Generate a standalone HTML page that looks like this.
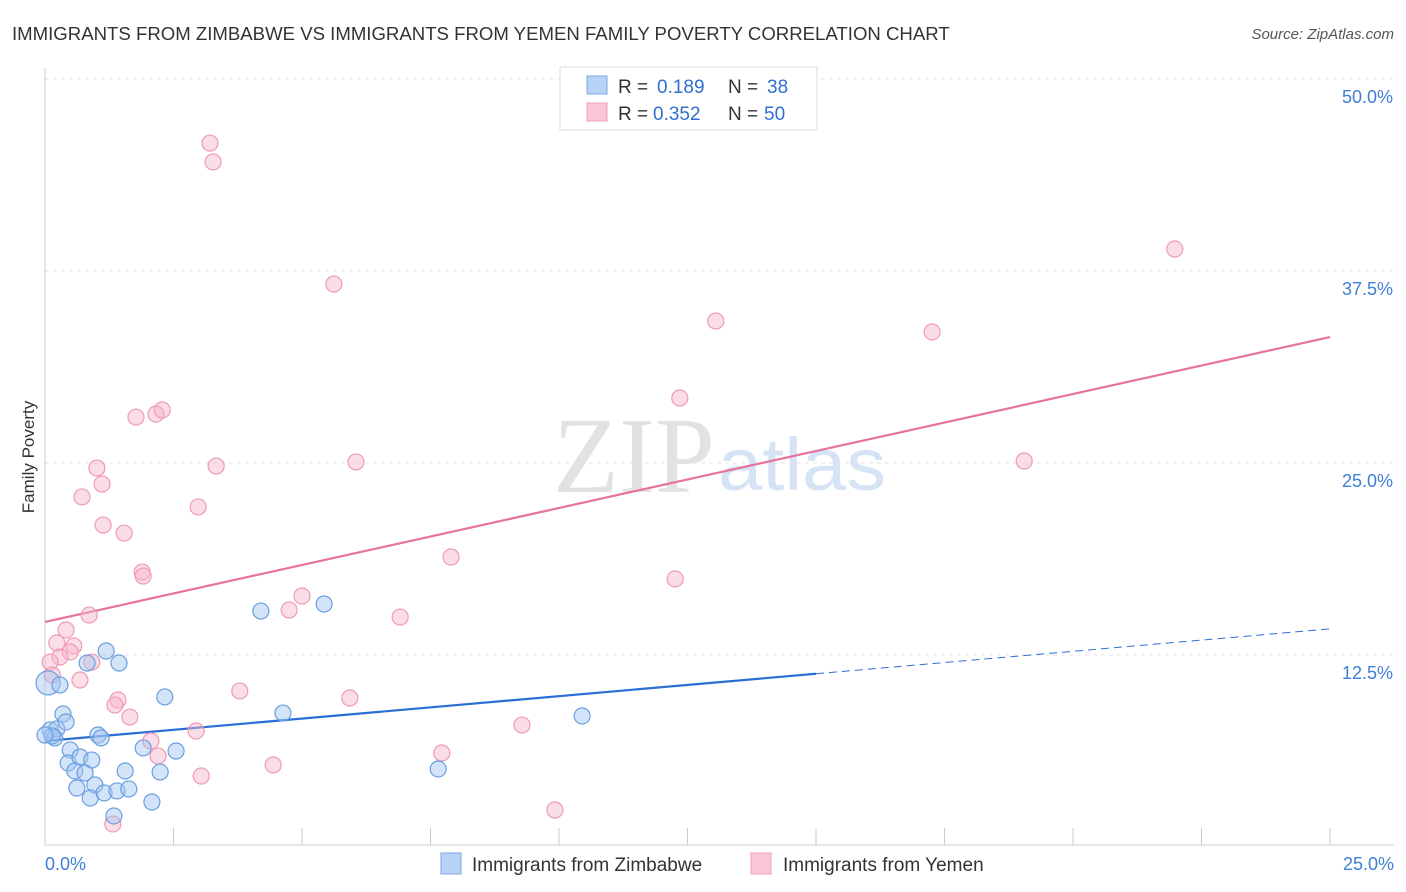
<!DOCTYPE html>
<html><head><meta charset="utf-8"><style>
body{margin:0;background:#fff;font-family:"Liberation Sans",sans-serif;}
svg{display:block}
</style></head><body>
<svg id="chart" width="1406" height="892">
<text x="12" y="40" font-size="18.6" fill="#333">IMMIGRANTS FROM ZIMBABWE VS IMMIGRANTS FROM YEMEN FAMILY POVERTY CORRELATION CHART</text>
<text x="1394" y="39" font-size="15" fill="#555" font-style="italic" text-anchor="end">Source: ZipAtlas.com</text>
<text transform="translate(34,457) rotate(-90)" font-size="17" fill="#333" text-anchor="middle">Family Poverty</text>
<g>
<text x="553" y="492" font-size="108" fill="#e2e2e2" font-family="Liberation Serif,serif" textLength="162" lengthAdjust="spacingAndGlyphs">ZIP</text>
<text x="718" y="490" font-size="74" fill="#d5e3f5" textLength="168" lengthAdjust="spacingAndGlyphs">atlas</text>
</g>
<g id="grid"></g><g id="axes"></g><g id="lines"></g><g id="pts"></g>
<g>
<rect x="560" y="67" width="257" height="63" fill="#fff" stroke="#ddd"/>
<rect x="587" y="76" width="20" height="18" fill="#b8d3f5" stroke="#7aa8e6"/>
<rect x="587" y="103" width="20" height="18" fill="#f9c6d5" stroke="#efa0b9"/>
<text y="93" font-size="19" fill="#333"><tspan x="618">R = </tspan><tspan x="657" fill="#2f6fd0">0.189</tspan><tspan x="728">N = </tspan><tspan x="767" fill="#2f6fd0">38</tspan></text>
<text y="120" font-size="19" fill="#333"><tspan x="618">R = </tspan><tspan x="653" fill="#2f6fd0">0.352</tspan><tspan x="728">N = </tspan><tspan x="764" fill="#2f6fd0">50</tspan></text>
</g>
<g>
<rect x="441" y="853" width="20" height="21" fill="#b8d3f5" stroke="#7aa8e6"/>
<text x="472" y="871" font-size="19" fill="#333">Immigrants from Zimbabwe</text>
<rect x="751" y="853" width="20" height="21" fill="#f9c6d5" stroke="#efa0b9"/>
<text x="783" y="871" font-size="19" fill="#333">Immigrants from Yemen</text>
</g>
</svg>
<script>
const blueX=[0.06,0.29,0.10,0.23,0.19,0.35,0.41,0.82,1.19,1.44,2.33,0.49,0.45,0.68,0.91,0.58,0.78,1.03,1.09,1.56,1.91,2.24,2.55,0.62,0.97,0.88,1.15,1.40,1.63,1.34,2.08,4.20,5.43,4.63,7.65,10.45,0.14,0.0];
const blueY=[10.68,10.55,7.62,7.68,7.10,8.66,8.14,11.98,12.76,11.98,9.77,6.32,5.47,5.86,5.66,4.95,4.82,7.29,7.10,4.95,6.45,4.88,6.25,3.84,4.04,3.19,3.52,3.65,3.78,2.02,2.93,15.36,15.82,8.72,5.08,8.53,7.23,7.29];
const pinkX=[3.21,3.27,5.62,21.98,13.05,17.26,12.35,1.77,2.16,2.28,1.01,3.33,6.05,19.05,0.72,1.11,1.13,1.54,2.98,7.90,1.89,1.91,12.26,5.00,4.75,0.86,6.91,0.41,0.23,0.56,0.49,0.29,0.91,0.10,0.14,0.68,3.79,1.42,1.36,5.93,1.65,2.94,9.28,2.06,2.20,7.72,4.44,3.04,9.92,1.32];
const pinkY=[45.83,44.60,36.65,38.93,34.24,33.53,29.23,27.99,28.19,28.45,24.67,24.80,25.07,25.13,22.79,23.63,20.96,20.44,22.14,18.88,17.90,17.64,17.45,16.34,15.43,15.10,14.97,14.13,13.28,13.09,12.70,12.37,12.04,12.04,11.20,10.87,10.16,9.57,9.24,9.70,8.46,7.55,7.94,6.90,5.92,6.12,5.34,4.62,2.41,1.50];
const yTicks=[12.5,25,37.5,50];
const yTickLabels=["12.5%","25.0%","37.5%","50.0%"];
const blueTrend=[6.9,14.2];
const blueSolidEnd=15;
const pinkTrend=[14.65,33.2];
const NS="http://www.w3.org/2000/svg";
const sx=v=>45+v*(1285/25), sy=v=>847-v*(768/50);
function mk(tag,attrs,parent){const e=document.createElementNS(NS,tag);for(const k in attrs)e.setAttribute(k,attrs[k]);document.getElementById(parent).appendChild(e);return e;}
yTicks.forEach((t,i)=>{
 const g=mk('line',{x1:45,x2:1394,y1:sy(t),y2:sy(t),stroke:'#e3e3e3','stroke-dasharray':'4,4'},'grid');
 
 
 const l=mk('text',{x:1393,y:sy(t)+24,'font-size':18,fill:'#3f7fd6','text-anchor':'end'},'axes');
 l.textContent=yTickLabels[i];
 
 
});
const ax=mk('line',{x1:45,x2:1394,y1:845,y2:845,stroke:'#ccc'},'axes');


const ay=mk('line',{x1:45,x2:45,y1:68,y2:845,stroke:'#ccc'},'axes');


for(let i=0;i<=10;i++){const t=mk('line',{x1:sx(i*2.5),x2:sx(i*2.5),y1:828,y2:845,stroke:'#ccc'},'axes');
 
 }
[[0,'0.0%','start',45],[25,'25.0%','end',1394]].forEach(d=>{const t=mk('text',{x:d[3],y:870,'font-size':18,fill:'#3f7fd6','text-anchor':d[2]},'axes');t.textContent=d[1];
 
 });
const bAt=x=>blueTrend[0]+(blueTrend[1]-blueTrend[0])*x/25;
const b1=mk('line',{x1:sx(0),y1:sy(blueTrend[0]),x2:sx(blueSolidEnd),y2:sy(bAt(blueSolidEnd)),stroke:'#2a6fd6','stroke-width':2.2},'lines');


const b2=mk('line',{x1:sx(blueSolidEnd),y1:sy(bAt(blueSolidEnd)),x2:sx(25),y2:sy(blueTrend[1]),stroke:'#2a6fd6','stroke-width':1,'stroke-dasharray':'8,5'},'lines');


const p1=mk('line',{x1:sx(0),y1:sy(pinkTrend[0]),x2:sx(25),y2:sy(pinkTrend[1]),stroke:'#e8739a','stroke-width':2.2},'lines');


pinkX.forEach((x,i)=>{const c=mk('circle',{cx:sx(x),cy:sy(pinkY[i]),r:8,fill:'rgba(246,180,202,0.45)',stroke:'#ee9ab5','stroke-width':1.2},'pts');
 
 });
blueX.forEach((x,i)=>{const c=mk('circle',{cx:sx(x),cy:sy(blueY[i]),r:i===0?12:8,fill:'rgba(160,196,240,0.45)',stroke:'#6a9fe0','stroke-width':1.2},'pts');
 
 });
</script>
</body></html>
